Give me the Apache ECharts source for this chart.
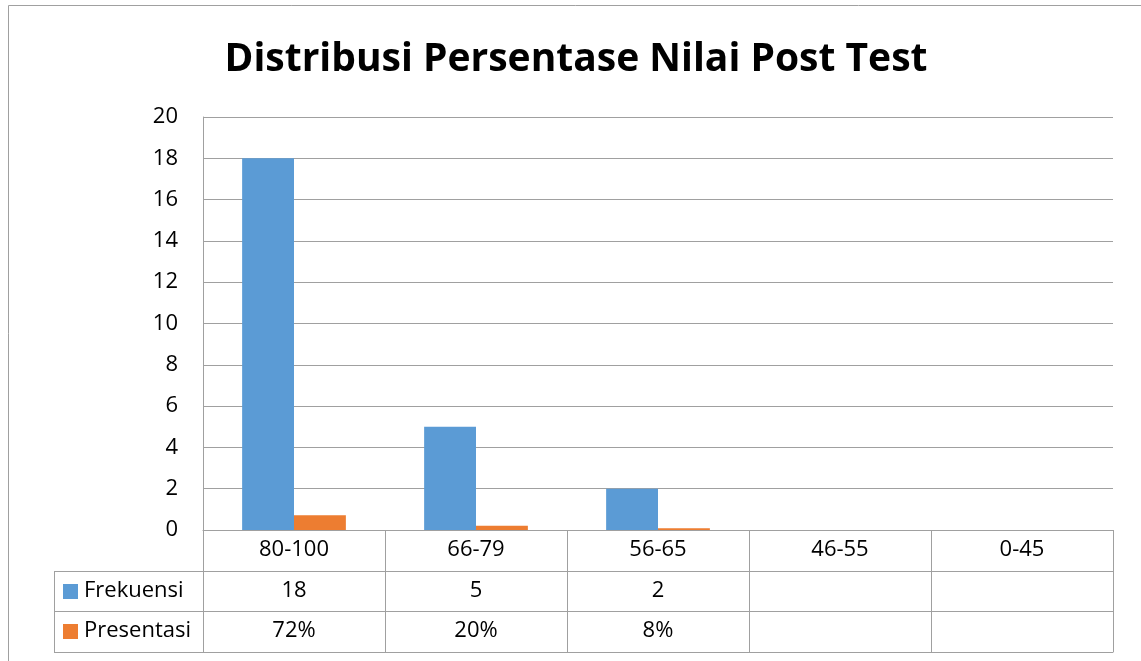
<!DOCTYPE html>
<html>
<head>
<meta charset="UTF-8">
<title>Distribusi Persentase Nilai Post Test</title>
<script src="https://cdn.jsdelivr.net/npm/echarts@6/dist/echarts.min.js"></script>
<style>
  html, body { margin: 0; padding: 0; background: #fff; }
  #container { width: 1141px; height: 661px; }
</style>
</head>
<body>
<div id="container"></div>
<script type="text/javascript">
// data
var kategori = ['80-100', '66-79', '56-65', '46-55', '0-45'];
var frekuensi = [18, 5, 2, null, null];
var presentasi = [0.72, 0.20, 0.08, null, null];
var yTicks = [0, 2, 4, 6, 8, 10, 12, 14, 16, 18, 20];

var garis = '#a0a0a0';
var huruf = '"Open Sans", "Noto Sans", sans-serif';
var ukuran = 22;

// isi tabel dibuat dari nilai
var labelFrek = frekuensi.map(function (v) { return v == null ? '' : String(v); });
var labelPres = presentasi.map(function (v) { return v == null ? '' : Math.round(v * 100) + '%'; });

var dom = document.getElementById('container');
var myChart = echarts.init(dom);

function tabelAxis(data, offset, showLabel) {
  return {
    type: 'category',
    gridIndex: 0,
    position: 'bottom',
    offset: offset,
    data: data,
    axisLine: { show: true, lineStyle: { color: garis, width: 1 } },
    axisTick: { show: showLabel, interval: 0, length: 41, lineStyle: { color: garis, width: 1 } },
    axisLabel: {
      show: showLabel, interval: 0, margin: 20, verticalAlign: 'middle',
      fontFamily: huruf, fontSize: ukuran, color: '#000'
    },
    splitLine: { show: false }
  };
}

var option = {
  animation: false,
  title: {
    text: 'Distribusi Persentase Nilai Post Test',
    left: 571,
    textAlign: 'center',
    top: 35,
    textStyle: { fontFamily: huruf, fontWeight: 'bold', fontSize: 39, color: '#000' }
  },
  grid: { left: 203, right: 28, top: 117, bottom: 131, containLabel: false },
  xAxis: [
    tabelAxis(kategori, 0, true),
    tabelAxis(labelFrek, 41, true),
    tabelAxis(labelPres, 81, true),
    tabelAxis(kategori, 122, false)
  ],
  yAxis: {
    type: 'value',
    min: yTicks[0],
    max: yTicks[yTicks.length - 1],
    interval: 2,
    axisLine: { show: true, lineStyle: { color: garis } },
    axisTick: { show: false },
    axisLabel: { margin: 25, fontFamily: huruf, fontSize: ukuran, color: '#000' },
    splitLine: { show: true, lineStyle: { color: garis, width: 1 } }
  },
  series: [
    {
      name: 'Frekuensi', type: 'bar', xAxisIndex: 0,
      data: frekuensi, barGap: '0%', barCategoryGap: '43%',
      itemStyle: { color: '#5b9bd5' }
    },
    {
      name: 'Presentasi', type: 'bar', xAxisIndex: 0,
      data: presentasi, barGap: '0%', barCategoryGap: '43%',
      itemStyle: { color: '#ed7d31' }
    }
  ],
  graphic: [
    // bingkai luar
    { type: 'rect', shape: { x: 8.5, y: 5.5, width: 1300, height: 800 },
      style: { fill: 'none', stroke: garis, lineWidth: 1 }, silent: true },
    // kolom judul baris tabel
    { type: 'line', shape: { x1: 54, y1: 571.5, x2: 203, y2: 571.5 }, style: { stroke: garis, lineWidth: 1 } },
    { type: 'line', shape: { x1: 54, y1: 611.5, x2: 203, y2: 611.5 }, style: { stroke: garis, lineWidth: 1 } },
    { type: 'line', shape: { x1: 54, y1: 652.5, x2: 203, y2: 652.5 }, style: { stroke: garis, lineWidth: 1 } },
    { type: 'line', shape: { x1: 54.5, y1: 571, x2: 54.5, y2: 653 }, style: { stroke: garis, lineWidth: 1 } },
    { type: 'rect', shape: { x: 63, y: 584, width: 15, height: 15 }, style: { fill: '#5b9bd5' } },
    { type: 'rect', shape: { x: 63, y: 624, width: 15, height: 15 }, style: { fill: '#ed7d31' } },
    { type: 'text', x: 84, y: 591,
      style: { text: 'Frekuensi', font: ukuran + 'px ' + huruf, fill: '#000', textVerticalAlign: 'middle' } },
    { type: 'text', x: 84, y: 631,
      style: { text: 'Presentasi', font: ukuran + 'px ' + huruf, fill: '#000', textVerticalAlign: 'middle' } }
  ]
};

myChart.setOption(option);
</script>
</body>
</html>
